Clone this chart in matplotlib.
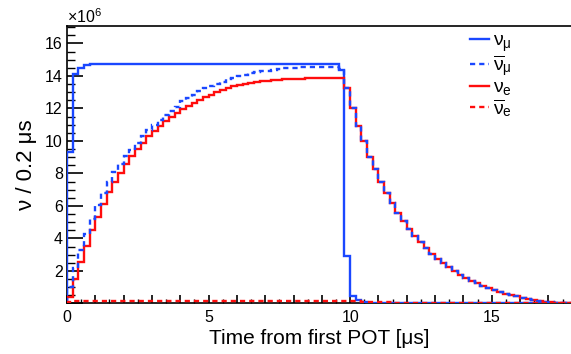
import numpy as np
import matplotlib
matplotlib.use("Agg")
import matplotlib.pyplot as plt
from matplotlib.ticker import MultipleLocator, FuncFormatter

plt.rcParams['font.family'] = ['Liberation Sans', 'DejaVu Sans']
plt.rcParams['mathtext.fontset'] = 'custom'
plt.rcParams['mathtext.rm'] = 'Liberation Sans'
plt.rcParams['mathtext.it'] = 'Liberation Sans:italic'

# histogram binning: 0.2 us bins from 0 to 17.8 us
bin_width = 0.2
n_bins = 89
edges = np.round(np.arange(n_bins + 1) * bin_width, 1)

# counts per bin, units of 1e6
numu = [9.34, 14.1, 14.46, 14.66, 14.72, 14.75, 14.75, 14.75, 14.75, 14.75,
        14.75, 14.75, 14.75, 14.75, 14.75, 14.75, 14.75, 14.75, 14.75, 14.75,
        14.75, 14.75, 14.75, 14.75, 14.75, 14.75, 14.75, 14.75, 14.75, 14.75,
        14.75, 14.75, 14.75, 14.75, 14.75, 14.75, 14.75, 14.75, 14.75, 14.75,
        14.75, 14.75, 14.75, 14.75, 14.75, 14.75, 14.75, 14.75, 14.36, 2.95,
        0.45, 0.2, 0.08, 0.05, 0.03, 0.02, 0.01, 0.01, 0.0, 0.0,
        0.0, 0.0, 0.0, 0.0, 0.0, 0.0, 0.0, 0.0, 0.0, 0.0,
        0.0, 0.0, 0.0, 0.0, 0.0, 0.0, 0.0, 0.0, 0.0, 0.0,
        0.0, 0.0, 0.0, 0.0, 0.0, 0.0, 0.0, 0.0, 0.0]

numubar = [1.0, 2.19, 3.31, 4.29, 5.2, 6.07, 6.8, 7.5, 8.1, 8.6,
           9.05, 9.45, 9.9, 10.3, 10.65, 10.98, 11.3, 11.6, 11.85, 12.1,
           12.45, 12.66, 12.85, 13.05, 13.23, 13.39, 13.52, 13.65, 13.78, 13.9,
           14.0, 14.08, 14.15, 14.22, 14.28, 14.33, 14.38, 14.42, 14.46, 14.49,
           14.51, 14.53, 14.55, 14.56, 14.57, 14.57, 14.57, 14.57, 14.45, 13.23,
           12.04, 10.94, 10.0, 9.04, 8.26, 7.48, 6.79, 6.17, 5.56, 5.05,
           4.6, 4.13, 3.78, 3.42, 3.07, 2.76, 2.5, 2.25, 1.98, 1.78,
           1.58, 1.41, 1.23, 1.06, 0.94, 0.82, 0.69, 0.61, 0.51, 0.43,
           0.35, 0.29, 0.23, 0.17, 0.12, 0.08, 0.05, 0.03, 0.02]

nue = [0.4, 1.5, 2.55, 3.55, 4.5, 5.35, 6.1, 6.85, 7.45, 8.05,
       8.6, 9.1, 9.5, 9.9, 10.3, 10.6, 10.9, 11.2, 11.45, 11.7,
       11.94, 12.15, 12.35, 12.5, 12.68, 12.85, 13.0, 13.12, 13.25, 13.35,
       13.43, 13.5, 13.56, 13.62, 13.67, 13.71, 13.74, 13.77, 13.79, 13.81,
       13.82, 13.83, 13.84, 13.85, 13.85, 13.85, 13.85, 13.85, 13.85, 13.23,
       12.04, 10.94, 10.0, 9.04, 8.26, 7.48, 6.79, 6.17, 5.56, 5.05,
       4.6, 4.13, 3.78, 3.42, 3.07, 2.76, 2.5, 2.25, 1.98, 1.78,
       1.58, 1.41, 1.23, 1.06, 0.94, 0.82, 0.69, 0.61, 0.51, 0.43,
       0.35, 0.29, 0.23, 0.17, 0.12, 0.08, 0.05, 0.03, 0.02]

nuebar = [0.1, 0.18, 0.18, 0.18, 0.18, 0.18, 0.18, 0.18, 0.18, 0.18,
          0.18, 0.18, 0.18, 0.18, 0.18, 0.18, 0.18, 0.18, 0.18, 0.18,
          0.18, 0.18, 0.18, 0.18, 0.18, 0.18, 0.18, 0.18, 0.18, 0.18,
          0.18, 0.18, 0.18, 0.18, 0.18, 0.18, 0.18, 0.18, 0.18, 0.18,
          0.18, 0.18, 0.18, 0.18, 0.18, 0.18, 0.18, 0.18, 0.18, 0.17,
          0.16, 0.14, 0.12, 0.11, 0.1, 0.09, 0.08, 0.07, 0.06, 0.05,
          0.05, 0.04, 0.04, 0.03, 0.03, 0.02, 0.02, 0.02, 0.01, 0.01,
          0.01, 0.01, 0.01, 0.0, 0.0, 0.0, 0.0, 0.0, 0.0, 0.0,
          0.0, 0.0, 0.0, 0.0, 0.0, 0.0, 0.0, 0.0, 0.0]

labels = [r'$\mathrm{\nu_{\mu}}$', r'$\overline{\mathrm{\nu}}_{\mathrm{\mu}}$',
          r'$\mathrm{\nu_{e}}$', r'$\overline{\mathrm{\nu}}_{\mathrm{e}}$']

blue = '#1a47ff'
red = '#ff0d0d'
dash = (2.2, 1.7)

fig = plt.figure(figsize=(5.71, 3.54), dpi=100)
ax = fig.add_axes([0.1173, 0.1427, 0.8827, 0.7839])

lw = 1.7
h1 = ax.stairs(numu, edges, baseline=0, color=blue, lw=lw, zorder=3)
h3 = ax.stairs(nue, edges, baseline=0, color=red, lw=lw, zorder=3)
h2 = ax.stairs(numubar, edges, baseline=0, color=blue, lw=lw, zorder=4,
               linestyle=(0, dash))
h4 = ax.stairs(nuebar, edges, baseline=0, color=red, lw=lw, zorder=4,
               linestyle=(0, dash))

ax.set_xlim(0, 17.8)
ax.set_ylim(0, 17.07)

# axis styling, ROOT-like
ax.spines['right'].set_visible(False)
for s in ['left', 'bottom', 'top']:
    ax.spines[s].set_linewidth(1.2)
ax.xaxis.set_major_locator(MultipleLocator(1))
ax.xaxis.set_minor_locator(MultipleLocator(0.5))
ax.xaxis.set_major_formatter(FuncFormatter(lambda v, p: '%d' % v if abs(v % 5) < 1e-6 else ''))
ax.yaxis.set_major_locator(MultipleLocator(2))
ax.yaxis.set_minor_locator(MultipleLocator(0.5))
ax.yaxis.set_major_formatter(FuncFormatter(lambda v, p: '' if v == 0 else '%d' % v))
ax.tick_params(axis='x', which='major', direction='in', length=6, width=1.2,
               labelsize=11.5, pad=4.5, top=False)
ax.tick_params(axis='x', which='minor', direction='in', length=3, width=1.0, top=False)
ax.tick_params(axis='y', which='major', direction='in', length=11.5, width=1.2,
               labelsize=11.5, pad=3, right=False)
ax.tick_params(axis='y', which='minor', direction='in', length=5.8, width=1.0, right=False)

ax.set_xlabel('Time from first POT [μs]', fontsize=15, labelpad=3)
ax.set_ylabel('ν / 0.2 μs', fontsize=16, labelpad=6)
ax.text(0.0, 1.0, r'$\mathrm{\times10^{6}}$', transform=ax.transAxes,
        ha='left', va='bottom', fontsize=11.5)

ax.legend([h1, h2, h3, h4], labels, loc='upper left', bbox_to_anchor=(0.8, 0.978),
          frameon=False, fontsize=14, handlelength=0.95, handletextpad=0.2,
          labelspacing=0.0, borderpad=0, borderaxespad=0)

fig.savefig('out.png', dpi=100)
